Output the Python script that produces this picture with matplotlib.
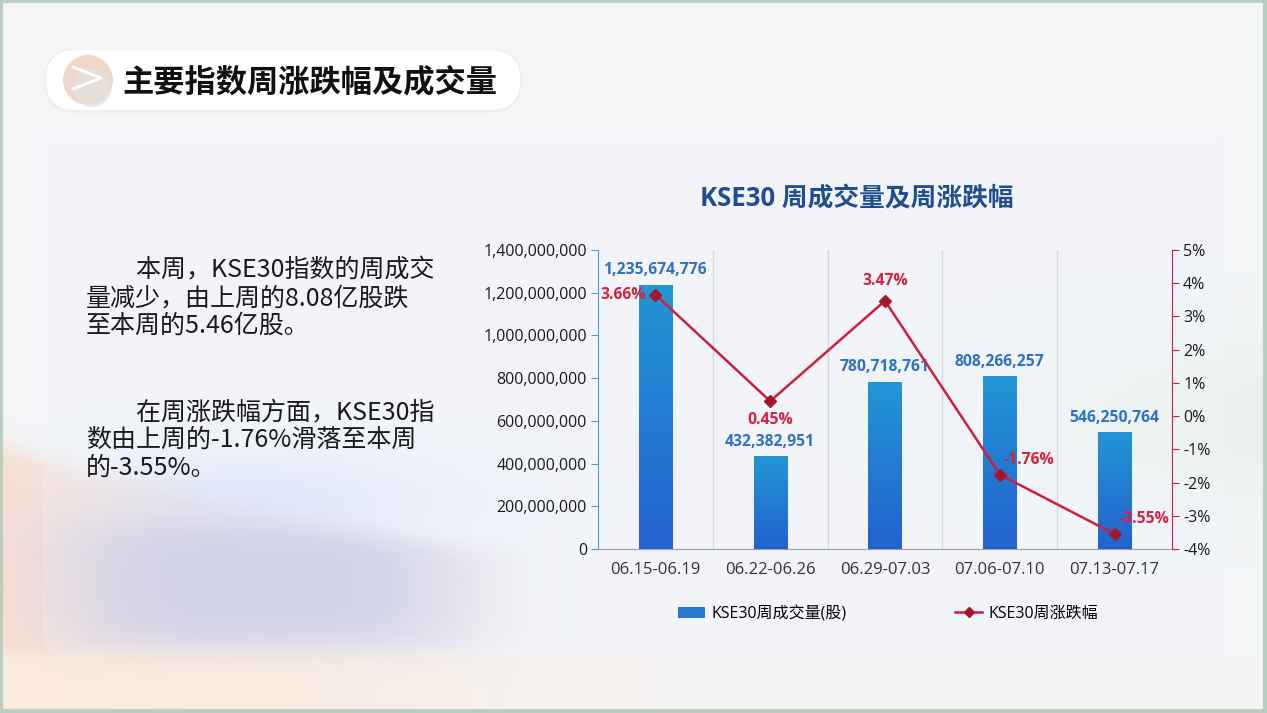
import numpy as np
import matplotlib
matplotlib.use("Agg")
import matplotlib.pyplot as plt
from matplotlib.patches import FancyBboxPatch, Circle, Patch
from matplotlib.lines import Line2D
from matplotlib.colors import LinearSegmentedColormap
from matplotlib.ticker import FuncFormatter, MultipleLocator

plt.rcParams['font.family'] = ['Open Sans', 'Noto Sans CJK SC', 'DejaVu Sans']

# data
weeks = ['06.15-06.19', '06.22-06.26', '06.29-07.03', '07.06-07.10', '07.13-07.17']
volume = [1235674776, 432382951, 780718761, 808266257, 546250764]
change_pct = [3.66, 0.45, 3.47, -1.76, -3.55]

page_title = '主要指数周涨跌幅及成交量'
chart_title = 'KSE30 周成交量及周涨跌幅'
para1 = ['　　本周，KSE30指数的周成交', '量减少，由上周的8.08亿股跌', '至本周的5.46亿股。']
para2 = ['　　在周涨跌幅方面，KSE30指', '数由上周的-1.76%滑落至本周', '的-3.55%。']

W, H = 1267, 713
fig = plt.figure(figsize=(W / 100, H / 100), dpi=100)

# ---- background ----
bg = fig.add_axes([0, 0, 1, 1])
bg.set_xlim(0, W)
bg.set_ylim(H, 0)
bg.axis('off')

yy, xx = np.mgrid[0:H, 0:W].astype(float)
img = np.ones((H, W, 3)) * np.array([0.955, 0.962, 0.972])

def mix(alpha, color):
    for k in range(3):
        img[:, :, k] = img[:, :, k] * (1 - alpha) + color[k] * alpha

# frosted card tint (drawn first so the blobs show through)
card_mask = ((xx > 42) & (xx < 1224) & (yy > 138) & (yy < 656)).astype(float)
mix(0.5 * card_mask, (0.93, 0.95, 0.985))

# peach area below a curve on the left
curve = 440 + 105 * np.clip(xx / 450, 0, 1) ** 0.75
below = 1 / (1 + np.exp(-(yy - curve) / 6))
mix(0.85 * below * np.clip(1 - xx / 560, 0, 1), (0.985, 0.87, 0.80))
# soft blue glow above the curve
mix(0.55 * np.exp(-(((xx - 250) / 190) ** 2 + ((yy - 500) / 50) ** 2)), (0.80, 0.85, 0.98))
# lavender blob
lav = np.exp(-(((xx - 260) / 210) ** 4 + ((yy - 585) / 70) ** 4))
mix(0.85 * lav * below, (0.77, 0.78, 0.90))
# cream band at the bottom
band = 1 / (1 + np.exp(-(yy - 652) / 3))
mix(0.7 * band * np.clip(1 - xx / 1100, 0.15, 1), (0.985, 0.93, 0.88))
# pale green curve on the right
mix(0.5 * np.exp(-(((xx - 1320) / 280) ** 2 + ((yy - 420) / 90) ** 2)), (0.88, 0.93, 0.88))
bg.imshow(img, extent=(0, W, H, 0), aspect='auto', zorder=0)

# soft rounded card edge
bg.add_patch(FancyBboxPatch((42, 138), 1182, 518, boxstyle='round,pad=0,rounding_size=22',
                            facecolor='white', edgecolor='none', alpha=0.15, zorder=1))

# outer frame
bg.add_patch(plt.Rectangle((1, 1), W - 3, H - 3, fill=False, edgecolor='#bccdc1', lw=3, zorder=5))

# title pill
bg.add_patch(FancyBboxPatch((44, 49), 478, 64, boxstyle='round,pad=0,rounding_size=32',
                            facecolor='#e9eeec', edgecolor='none', alpha=0.6, zorder=2))
bg.add_patch(FancyBboxPatch((46, 50), 474, 60, boxstyle='round,pad=0,rounding_size=30',
                            facecolor='white', edgecolor='none', zorder=2))
bg.add_patch(Circle((88, 80), 25, facecolor='#efd6ca', edgecolor='none', zorder=3))
bg.add_patch(Circle((92, 88), 19, facecolor='#e2e1df', edgecolor='none', alpha=0.75, zorder=3))
bg.plot([73, 101, 73], [67, 78, 89], color='white', lw=2.2, zorder=4, solid_capstyle='round')
bg.text(122, 82, page_title, fontsize=22.5, fontweight='heavy', color='#111111',
        va='center', ha='left', family=['Noto Sans CJK SC'], zorder=4)

# left text
for i, line in enumerate(para1):
    bg.text(86, 270 + i * 28, line, fontsize=18, color='#1a1a1a', va='center', ha='left',
            family=['Noto Sans CJK SC'], zorder=4)
for i, line in enumerate(para2):
    bg.text(86, 412 + i * 28, line, fontsize=18, color='#1a1a1a', va='center', ha='left',
            family=['Noto Sans CJK SC'], zorder=4)

# chart title
bg.text(857, 199, chart_title, fontsize=18.5, fontweight='bold', color='#1f4f8f',
        va='center', ha='center', zorder=4)

# ---- chart ----
ax = fig.add_axes([598 / W, 1 - 549 / H, (1172 - 598) / W, (549 - 250) / H])
ax.patch.set_alpha(0)
x = np.arange(len(weeks))
bars = ax.bar(x, volume, width=0.29, color='#2382d2', zorder=2)

# gradient on bars
grad = np.linspace(0, 1, 256).reshape(-1, 1)
cmap = LinearSegmentedColormap.from_list('bar', ['#2262cf', '#2396d4'])
for b in bars:
    bx, by = b.get_x(), b.get_y()
    bw, bh = b.get_width(), b.get_height()
    ax.imshow(grad, extent=(bx, bx + bw, by, by + bh), origin='lower', cmap=cmap,
              aspect='auto', zorder=3)
    b.set_visible(False)
ax.set_aspect('auto')
ax.set_xlim(-0.5, len(weeks) - 0.5)
ax.set_ylim(0, 1.4e9)

for xi, v in zip(x, volume):
    ax.text(xi, v + 3.2e7, f'{v:,}', ha='center', va='bottom', fontsize=11.3,
            fontweight='bold', color='#2f72c4', zorder=6)

for xb in np.arange(0.5, len(weeks) - 0.5, 1):
    ax.axvline(xb, color='#d3dae6', lw=1, zorder=1)

ax.set_xticks(x)
ax.set_xticklabels(weeks, fontsize=12, color='#333333')
ax.tick_params(axis='x', length=0, pad=9)
ax.yaxis.set_major_locator(MultipleLocator(2e8))
ax.yaxis.set_major_formatter(FuncFormatter(lambda v, p: f'{int(v):,}'))
ax.tick_params(axis='y', labelsize=11.5, labelcolor='#1a1a1a', color='#4a9fd8', length=5, pad=3)
for s in ['top', 'right']:
    ax.spines[s].set_visible(False)
ax.spines['left'].set_color('#4a9fd8')
ax.spines['bottom'].set_color('#9aa3ad')

ax2 = ax.twinx()
ax2.plot(x, change_pct, color='#cc1f3d', lw=1.8, marker='D', markersize=6.5,
         markerfacecolor='#a3162e', markeredgecolor='#a3162e', zorder=5)
ax2.set_ylim(-4, 5)
ax2.yaxis.set_major_locator(MultipleLocator(1))
ax2.yaxis.set_major_formatter(FuncFormatter(lambda v, p: f'{int(round(v))}%'))
ax2.tick_params(axis='y', labelsize=11.5, labelcolor='#1a1a1a', color='#cc1f3d', length=5, pad=3)
for s in ['top', 'left', 'bottom']:
    ax2.spines[s].set_visible(False)
ax2.spines['right'].set_color('#cc1f3d')

pct_offsets = [(-0.08, 0, 'right', 'center'), (0, -0.33, 'center', 'top'),
               (0, 0.35, 'center', 'bottom'), (0.03, 0.2, 'left', 'bottom'),
               (0.03, 0.2, 'left', 'bottom')]
for xi, p, (dx, dy, ha, va) in zip(x, change_pct, pct_offsets):
    ax2.text(xi + dx, p + dy, f'{p:.2f}%', ha=ha, va=va, fontsize=11.3,
             fontweight='bold', color='#d6213f', zorder=7)

# legend
handles = [Patch(facecolor='#2378d0', edgecolor='none', label='KSE30周成交量(股)'),
           Line2D([0], [0], color='#cc1f3d', lw=1.8, marker='D', markersize=5.5,
                  markerfacecolor='#a3162e', markeredgecolor='#a3162e', label='KSE30周涨跌幅')]
fig.legend(handles=handles, loc='center', bbox_to_anchor=(888 / W, 1 - 614 / H), ncol=2,
           frameon=False, fontsize=11.5, columnspacing=6.8, handlelength=1.7,
           handleheight=0.7, handletextpad=0.4)

fig.savefig('out.png', dpi=100)
